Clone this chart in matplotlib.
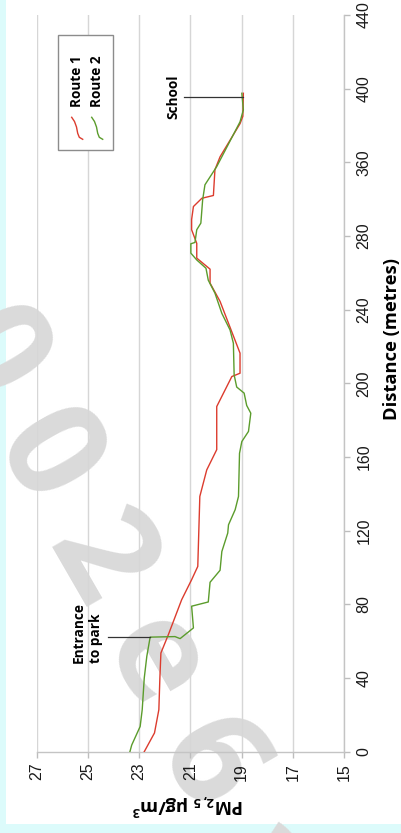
import matplotlib
matplotlib.use('Agg')
import matplotlib.pyplot as plt
from matplotlib.patches import Rectangle
from matplotlib.lines import Line2D

# distance along the route (axis units) and PM2.5 readings
route1_dist = [0, 10.2, 22.8, 40, 53.6, 63.5, 82.5, 93.4, 100.6, 138.6, 153, 164,
               187.4, 191, 203.7, 205.5, 216.4, 244.5, 254.4, 262, 268, 276, 283.4,
               289, 296, 300.5, 302, 316, 323, 341, 345, 357.5]
route1_pm = [22.8, 22.4, 22.23, 22.19, 22.15, 21.86, 21.34, 20.95, 20.71, 20.63, 20.36, 19.97,
             19.97, 19.84, 19.38, 19.06, 19.06, 19.84, 20.23, 20.23, 20.75, 20.75, 20.95,
             20.95, 20.88, 20.55, 20.1, 20.04, 19.84, 19.06, 18.95, 18.93]

route2_dist = [0, 3.6, 13.7, 22.8, 40, 51.8, 62.2, 62.5, 61.4, 67.2, 79.0, 81.3, 92.0,
               98.5, 108.7, 118.7, 123.2, 131.4, 138.6, 162, 168.4, 173.9, 183.8, 188,
               194.7, 198, 204.6, 221.8, 229, 238, 249, 256, 262.5, 267, 270.7, 275.8,
               276.5, 283.4, 287, 299.6, 307.8, 317.7, 342, 348.5, 357.5]
route2_pm = [23.36, 23.29, 22.96, 22.88, 22.8, 22.7, 22.57, 21.6, 21.4, 20.88, 20.95, 20.3, 20.23,
             19.84, 19.77, 19.54, 19.51, 19.25, 19.12, 19.08, 18.99, 18.73, 18.64, 18.8,
             18.9, 19.19, 19.29, 19.32, 19.45, 19.77, 20.04, 20.3, 20.39, 20.75, 20.98, 20.98,
             20.82, 20.75, 20.59, 20.52, 20.43, 19.97, 19.06, 18.93, 18.99]

pm_ticks = [27, 25, 23, 21, 19, 17, 15]
dist_ticks = [0, 40, 80, 120, 160, 200, 240, 280, 320, 360, 400]
dist_labels = ['0', '40', '80', '120', '160', '200', '240', '280', '360', '400', '440']

school_dist, school_pm = 355.7, 18.95
entrance_dist, entrance_pm = 62.2, 22.57

RED = '#dc3c2e'
GREEN = '#5b9c2c'
W, H = 401, 833

plt.rcParams['mathtext.fontset'] = 'custom'
plt.rcParams['mathtext.bf'] = 'Open Sans:bold'
plt.rcParams['mathtext.rm'] = 'Open Sans:bold'
plt.rcParams['mathtext.default'] = 'bf'


def fx(px):
    return px / W


def fy(py):
    return 1 - py / H


fig = plt.figure(figsize=(W / 100, H / 100), dpi=100)
fig.patch.set_facecolor('white')

# pale cyan frame on the left and bottom edges
fig.add_artist(Rectangle((0, 0), fx(6), 1, transform=fig.transFigure,
                         color='#dcfbfb', lw=0, zorder=-3))
fig.add_artist(Rectangle((0, 0), 1, (H - 824) / H, transform=fig.transFigure,
                         color='#dcfbfb', lw=0, zorder=-3))

# faint watermark running diagonally behind the chart
wm_chars = ['0', '0', '2', 'e', '6', 'a']
for k, ch in enumerate(wm_chars):
    cx = -11 + 54 * k
    cy = 358 + 102 * k
    fig.text(fx(cx), fy(cy), ch, rotation=-60, ha='center', va='center',
             fontsize=100, fontweight='bold', family='Open Sans',
             color='#dadada', zorder=-1)

ax = fig.add_axes([fx(36.7), fy(751.7), fx(344) - fx(36.7), (751.7 - 15) / H])
ax.patch.set_visible(False)

ax.plot(route1_pm, route1_dist, color=RED, lw=1.0, zorder=3)
ax.plot(route2_pm, route2_dist, color=GREEN, lw=1.0, zorder=3)

ax.set_xlim(27, 15)
ax.set_ylim(0, 400)
ax.set_xticks(pm_ticks)
ax.set_xticklabels([str(v) for v in pm_ticks], rotation=90)
ax.set_yticks(dist_ticks)
ax.set_yticklabels(dist_labels, rotation=90, va='center')
ax.yaxis.tick_right()
ax.tick_params(axis='both', colors='#bdbdbd', labelcolor='#1a1a1a',
               length=4, width=1, labelsize=11.5)
ax.tick_params(axis='x', pad=4)
ax.tick_params(axis='y', pad=5)
for lab in ax.get_xticklabels() + ax.get_yticklabels():
    lab.set_family('Liberation Sans')

for side in ['top', 'left']:
    ax.spines[side].set_visible(False)
for side in ['right', 'bottom']:
    ax.spines[side].set_color('#c4c4c4')
    ax.spines[side].set_linewidth(1)
ax.grid(axis='x', color='#d6d6d6', lw=1)
ax.set_axisbelow(True)

# callouts
ax.plot([21.25, school_pm], [school_dist, school_dist], color='#333333', lw=0.9, zorder=4)
ax.text(21.68, school_dist, 'School', rotation=90, ha='center', va='center',
        fontweight='bold', fontsize=9.8, family='Open Sans')
ax.plot([24.21, entrance_pm], [entrance_dist, entrance_dist], color='#333333', lw=0.9, zorder=4)
ax.text(25.02, 64.6, 'Entrance\nto park', rotation=90, ha='center', va='center',
        multialignment='left', linespacing=1.3,
        fontweight='bold', fontsize=9.8, family='Open Sans')

# legend box
fig.add_artist(Rectangle((fx(58.3), fy(150)), fx(112.7) - fx(58.3), (150 - 35) / H,
                         transform=fig.transFigure, facecolor='white',
                         edgecolor='#8c8c8c', lw=1, zorder=2))
handle_x = [71.7, 74.5, 76.5, 77.7, 79.3, 82.7]
handle_y = [117.3, 121.5, 127, 133.3, 137.3, 139.3]
for off, color, name in [(0, RED, 'Route 1'), (20, GREEN, 'Route 2')]:
    fig.add_artist(Line2D([fx(v + off) for v in handle_x], [fy(v) for v in handle_y],
                          transform=fig.transFigure, color=color, lw=1.0, zorder=3))
    fig.text(fx(76.7 + off), fy(81.5), name, rotation=90, ha='center', va='center',
             fontweight='bold', fontsize=9.8, family='Open Sans', zorder=3)

fig.text(fx(392), fy(339), 'Distance (metres)', rotation=90, ha='center', va='center',
         fontweight='bold', fontsize=13.2, family='Open Sans')
fig.text(fx(188), fy(805), r'PM$_{2,5}$ µg/m$^3$', rotation=180, ha='center', va='center',
         fontweight='bold', fontsize=13.2, family='Open Sans')

fig.savefig('out.png', dpi=100)
